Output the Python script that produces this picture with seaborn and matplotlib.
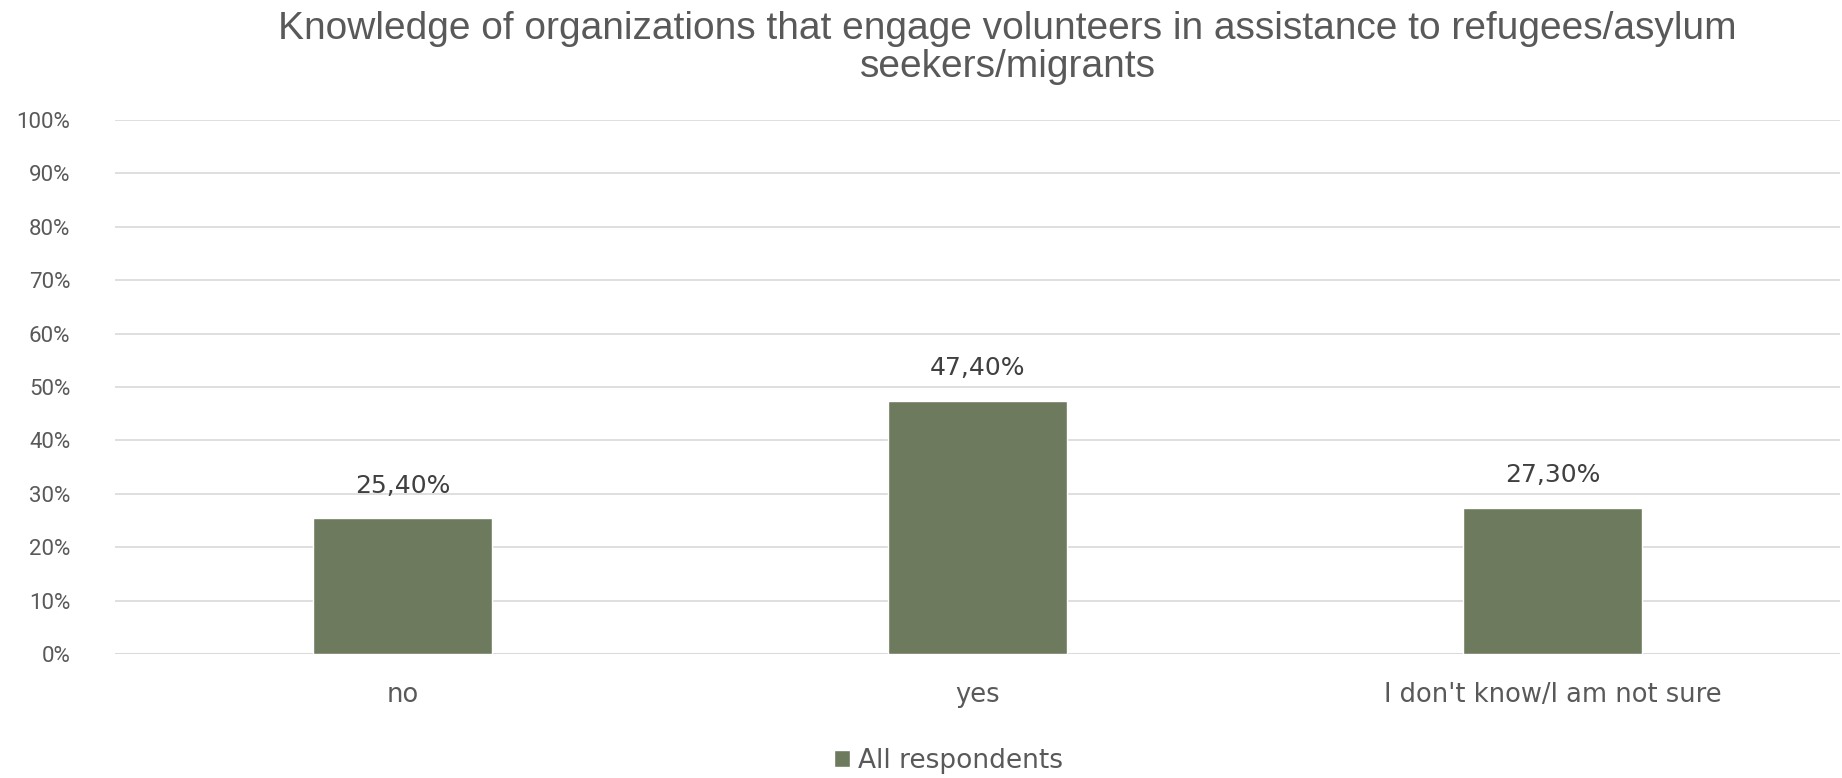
import matplotlib
matplotlib.use('Agg')
import matplotlib.pyplot as plt
import matplotlib.ticker as mticker
import pandas as pd
import seaborn as sns

title = 'Knowledge of organizations that engage volunteers in assistance to refugees/asylum\nseekers/migrants'
categories = ['no', 'yes', "I don't know/I am not sure"]
values = [0.254, 0.474, 0.273]
value_labels = ['25,40%', '47,40%', '27,30%']
series_name = 'All respondents'
output = 'out.png'

if __name__ == '__main__':
    sns.set_style('white')
    plt.rcParams['font.family'] = ['DejaVu Sans']

    df = pd.DataFrame({'category': categories, 'value': values})

    fig = plt.figure(figsize=(18.42, 7.78), dpi=100)
    ax = fig.add_axes([0.0624, 0.1594, 0.9366, 0.6864])

    sns.barplot(data=df, x='category', y='value', color='#6d7a5e', width=0.31,
                saturation=1, label=series_name, ax=ax, zorder=3)

    ax.set_ylim(0, 1)
    ax.set_xlim(-0.5, 2.5)
    ax.yaxis.set_major_locator(mticker.MultipleLocator(0.1))
    ax.yaxis.set_major_formatter(mticker.FuncFormatter(lambda v, p: f'{round(v * 100)}%'))
    ax.grid(axis='y', color='#d9d9d9', linewidth=1.2, zorder=0)
    for s in ax.spines.values():
        s.set_visible(False)
    ax.axhline(0, color='#d9d9d9', linewidth=1.2, zorder=1)

    ax.tick_params(axis='y', length=0, pad=32, labelsize=16, labelcolor='#595959')
    ax.tick_params(axis='x', length=0, pad=20, labelsize=18.5, labelcolor='#595959')
    for lab in ax.get_yticklabels():
        lab.set_family(['Roboto', 'DejaVu Sans'])
    ax.set_xlabel('')
    ax.set_ylabel('')

    for container in ax.containers:
        ax.bar_label(container, labels=value_labels, padding=15, fontsize=18, color='#404040')

    fig.suptitle(title, x=0.547, y=0.986, fontsize=28, color='#595959',
                 family=['Liberation Sans', 'DejaVu Sans'], linespacing=1.07)

    ax.legend(loc='center', bbox_to_anchor=(0.515, 0.022), bbox_transform=fig.transFigure,
              frameon=False, fontsize=19, labelcolor='#595959', handlelength=0.6,
              handleheight=0.6, handletextpad=0.3)

    plt.savefig(output, dpi=100, facecolor='white')
